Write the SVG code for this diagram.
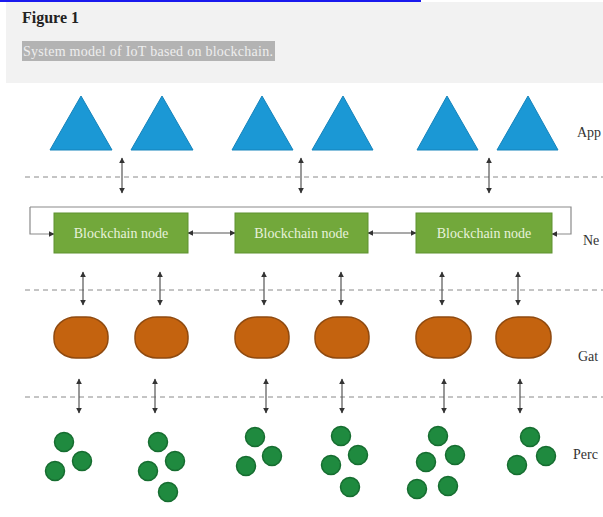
<svg xmlns="http://www.w3.org/2000/svg" width="603" height="517" viewBox="0 0 603 517">
<defs>
<style>
.tri{fill:#1b98d5;stroke:#1583bb;stroke-width:1}
.box{fill:#72a83b;stroke:#5f9230;stroke-width:1}
.btxt{font-family:"Liberation Serif",serif;font-size:14px;fill:#e8f2dc;text-anchor:middle}
.gw{fill:#c4630f;stroke:#8f4a10;stroke-width:1.5}
.dot{fill:#1f8a3f;stroke:#166d30;stroke-width:1.5}
.dash{stroke:#8a8a8a;stroke-width:1;stroke-dasharray:5,4;fill:none}
.arr{stroke:#555;stroke-width:1.2;fill:none;marker-start:url(#ah);marker-end:url(#ah)}
.frame{stroke:#8a8a8a;stroke-width:1.2;fill:none;marker-end:url(#ah)}
.lbl{font-family:"Liberation Serif",serif;font-size:14px;fill:#333}
</style>
<marker id="ah" viewBox="0 0 10 10" refX="9" refY="5" markerWidth="6" markerHeight="6" orient="auto-start-reverse" markerUnits="userSpaceOnUse">
<path d="M0,0 L10,5 L0,10 z" fill="#333"/>
</marker>
</defs>
<rect width="603" height="517" fill="#ffffff"/>
<g id="header">
<rect x="6" y="2" width="597" height="81" fill="#f2f2f2"/>
<rect x="0" y="0" width="421" height="2" fill="#1a1aee"/>
<text x="22" y="23" font-family="Liberation Serif,serif" font-size="16" font-weight="bold" fill="#222" textLength="57">Figure 1</text>
<rect x="22" y="41" width="253" height="20" fill="#b3b3b3"/>
<text x="23" y="56" font-family="Liberation Serif,serif" font-size="14" fill="#eeeeee" textLength="250">System model of IoT based on blockchain.</text>
</g>
<g id="connectors">
<line class="dash" x1="25" y1="177" x2="603" y2="177"/>
<line class="dash" x1="25" y1="290" x2="603" y2="290"/>
<line class="dash" x1="25" y1="397" x2="603" y2="397"/>
<line class="arr" x1="122" y1="158" x2="122" y2="193"/>
<line class="arr" x1="301" y1="158" x2="301" y2="193"/>
<line class="arr" x1="489" y1="158" x2="489" y2="193"/>
<polyline class="frame" points="30,207 30,234 54,234"/>
<polyline class="frame" points="30,207 571,207 571,234 552,234"/>
<line class="arr" x1="188" y1="233" x2="235" y2="233"/>
<line class="arr" x1="368" y1="233" x2="416" y2="233"/>
<line class="arr" x1="83" y1="272" x2="83" y2="305"/>
<line class="arr" x1="160" y1="272" x2="160" y2="305"/>
<line class="arr" x1="264" y1="272" x2="264" y2="305"/>
<line class="arr" x1="341" y1="272" x2="341" y2="305"/>
<line class="arr" x1="442" y1="272" x2="442" y2="305"/>
<line class="arr" x1="518" y1="272" x2="518" y2="305"/>
<line class="arr" x1="79" y1="379" x2="79" y2="413"/>
<line class="arr" x1="155" y1="379" x2="155" y2="413"/>
<line class="arr" x1="266" y1="379" x2="266" y2="413"/>
<line class="arr" x1="342" y1="379" x2="342" y2="413"/>
<line class="arr" x1="444" y1="379" x2="444" y2="413"/>
<line class="arr" x1="520" y1="379" x2="520" y2="413"/>
</g>
<g id="app1"><polygon class="tri" points="81,96 112,150 50,150"/></g>
<g id="app2"><polygon class="tri" points="162,96 193,150 131,150"/></g>
<g id="app3"><polygon class="tri" points="262,96 293,150 232,150"/></g>
<g id="app4"><polygon class="tri" points="343,96 373,150 312,150"/></g>
<g id="app5"><polygon class="tri" points="447,96 478,150 417,150"/></g>
<g id="app6"><polygon class="tri" points="528,96 558,150 497,150"/></g>
<g id="bc1"><rect class="box" x="54" y="213" width="134" height="40"/><text class="btxt" x="121" y="238">Blockchain node</text></g>
<g id="bc2"><rect class="box" x="235" y="213" width="133" height="40"/><text class="btxt" x="301.5" y="238">Blockchain node</text></g>
<g id="bc3"><rect class="box" x="416" y="213" width="136" height="40"/><text class="btxt" x="484" y="238">Blockchain node</text></g>
<g id="gw1"><rect class="gw" x="54" y="317" width="54" height="41" rx="22" ry="19"/></g>
<g id="gw2"><rect class="gw" x="135" y="317" width="53" height="41" rx="22" ry="19"/></g>
<g id="gw3"><rect class="gw" x="235" y="317" width="54" height="41" rx="22" ry="19"/></g>
<g id="gw4"><rect class="gw" x="315" y="317" width="54" height="41" rx="22" ry="19"/></g>
<g id="gw5"><rect class="gw" x="416" y="317" width="55" height="41" rx="22" ry="19"/></g>
<g id="gw6"><rect class="gw" x="496" y="317" width="55" height="41" rx="22" ry="19"/></g>
<g id="p1"><circle class="dot" cx="64" cy="442" r="9.5"/><circle class="dot" cx="82" cy="461" r="9.5"/><circle class="dot" cx="55" cy="471" r="9.5"/></g>
<g id="p2"><circle class="dot" cx="158" cy="442" r="9.5"/><circle class="dot" cx="175" cy="461" r="9.5"/><circle class="dot" cx="148" cy="471" r="9.5"/><circle class="dot" cx="168" cy="492" r="9.5"/></g>
<g id="p3"><circle class="dot" cx="255" cy="437" r="9.5"/><circle class="dot" cx="272" cy="456" r="9.5"/><circle class="dot" cx="246" cy="466" r="9.5"/></g>
<g id="p4"><circle class="dot" cx="341" cy="436" r="9.5"/><circle class="dot" cx="358" cy="455" r="9.5"/><circle class="dot" cx="331" cy="465" r="9.5"/><circle class="dot" cx="350" cy="487" r="9.5"/></g>
<g id="p5"><circle class="dot" cx="438" cy="436" r="9.5"/><circle class="dot" cx="455" cy="455" r="9.5"/><circle class="dot" cx="426" cy="462" r="9.5"/><circle class="dot" cx="448" cy="486" r="9.5"/><circle class="dot" cx="417" cy="489" r="9.5"/></g>
<g id="p6"><circle class="dot" cx="530" cy="437" r="9.5"/><circle class="dot" cx="546" cy="456" r="9.5"/><circle class="dot" cx="517" cy="465" r="9.5"/></g>
<g id="labels">
<text class="lbl" x="577" y="137">App</text>
<text class="lbl" x="583" y="245">Ne</text>
<text class="lbl" x="578" y="361">Gat</text>
<text class="lbl" x="573" y="459">Perc</text>
</g>
</svg>
